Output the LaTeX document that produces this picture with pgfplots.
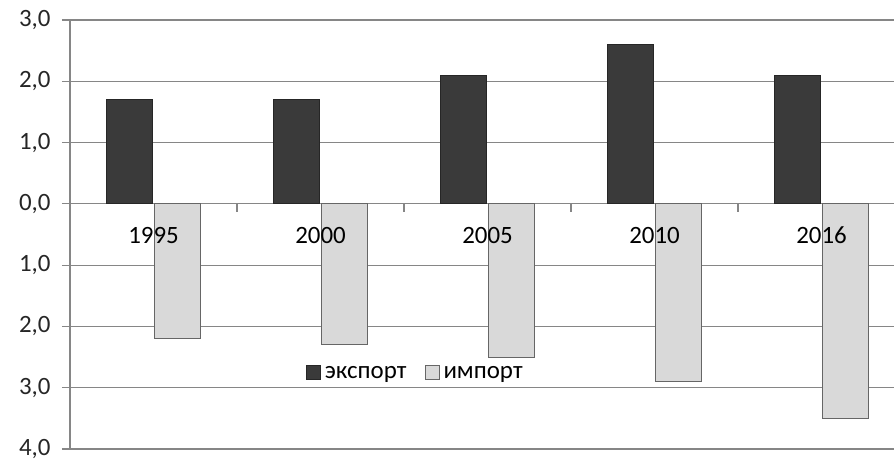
\documentclass[border=0pt]{standalone}
\usepackage{fontspec}
\setmainfont{Carlito}
\usepackage{pgfplots}
\pgfplotsset{compat=1.18}
\definecolor{expc}{HTML}{3A3A3A}
\definecolor{impc}{HTML}{D9D9D9}
\definecolor{gridc}{HTML}{868686}
\pgfplotsset{
    common/.style={
        scale only axis,
        width=824bp, height=429bp,
        xmin=-0.5, xmax=4.434,
        ymin=-4, ymax=3,
        font=\fontsize{25}{29}\selectfont,
    },
}
\begin{document}
\begin{tikzpicture}
\begin{axis}[
    common,
    axis x line=middle,
    axis y line=left,
    axis line style={gridc, line width=1.2bp, -},
    ybar=2bp,
    bar width=46bp,
    ytick={-4,...,3},
    yticklabels={{4,0},{3,0},{2,0},{1,0},{0,0},{1,0},{2,0},{3,0}},
    ymajorgrids,
    grid style={gridc, line width=1.2bp},
    xtick={0,...,4},
    xticklabels={},
    major x tick style={draw=none},
    minor xtick={0.5,1.5,2.5,3.5},
    tick align=outside,
    major tick length=8bp,
    minor tick length=8bp,
    tick style={gridc, line width=1.2bp},
    y tick label style={xshift=-8bp, text=black!85},
    legend style={at={(0.419,0.177)}, anchor=center, draw=none, fill=none,
        legend columns=2, font=\fontsize{25}{29}\selectfont,
        /tikz/every odd column/.append style={column sep=2bp},
        /tikz/every even column/.append style={column sep=16bp}},
    legend image code/.code={\draw[#1] (0bp,-6bp) rectangle (14bp,8bp);},
]
\addplot[fill=expc, draw=black!85, line width=1bp] coordinates {
    (0,1.7) (1,1.7) (2,2.1) (3,2.6) (4,2.1)
};
\addplot[fill=impc, draw=black!60, line width=1bp] coordinates {
    (0,-2.2) (1,-2.3) (2,-2.5) (3,-2.9) (4,-3.5)
};
\legend{экспорт, импорт}
\end{axis}
% category labels drawn on top of the bars
\begin{axis}[
    common,
    axis x line=middle,
    axis y line=none,
    axis line style={draw=none},
    xtick={0,...,4},
    xticklabels={1995,2000,2005,2010,2016},
    major x tick style={draw=none},
    ytick=\empty,
    x tick label style={yshift=-16bp, text height=18bp, text depth=5bp},
]
\end{axis}
\pgfresetboundingbox
\path ([xshift=-70bp,yshift=-12bp]current axis.south west) rectangle ([yshift=20bp]current axis.north east);
\end{tikzpicture}
\end{document}
